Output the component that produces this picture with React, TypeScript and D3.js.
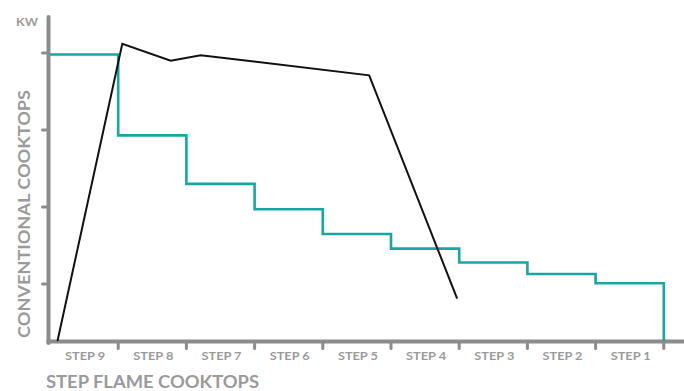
import React from "react";
import * as d3 from "d3";

const categories = ["STEP 9", "STEP 8", "STEP 7", "STEP 6", "STEP 5", "STEP 4", "STEP 3", "STEP 2", "STEP 1"];
// Step-flame cooktop power per step (kW, estimated)
const stepValues = [3.98, 2.93, 2.30, 1.97, 1.65, 1.46, 1.28, 1.13, 1.01];
// Conventional cooktop curve: position along steps axis, kW
const convX = [0.11, 1.06, 1.77, 2.21, 4.68, 5.97];
const convY = [0.26, 4.12, 3.90, 3.97, 3.71, 0.81];
const yTicks = [1, 2, 3, 4];
const yBase = 0.26;
const yTop = 4.48;

const W = 684;
const H = 391;

export default function App() {
  const x = d3.scaleLinear().domain([0, categories.length]).range([50, 663.8]);
  const y = d3.scaleLinear().domain([yBase, yTop]).range([341, 16]);

  const stepPts: [number, number][] = [];
  stepValues.forEach((v, i) => {
    stepPts.push([i, v]);
    stepPts.push([i + 1, v]);
  });
  stepPts.push([categories.length, yBase]);
  const lineGen = d3
    .line<[number, number]>()
    .x((d) => x(d[0]))
    .y((d) => y(d[1]))
    .curve(d3.curveLinear);

  const convPts: [number, number][] = convX.map((v, i) => [v, convY[i]]);

  const axisColor = "#8c8c8c";
  const textColor = "#9a9a9a";
  const font = "Lato, 'Open Sans', sans-serif";

  return (
    <svg
      width={W}
      height={H}
      style={{ position: "absolute", left: 0, top: 0 }}
      viewBox={`0 0 ${W} ${H}`}
    >
      <rect width={W} height={H} fill="#ffffff" />
      {/* y ticks */}
      {yTicks.map((t) => (
        <line
          key={"yt" + t}
          x1={42.5}
          x2={48}
          y1={y(t)}
          y2={y(t)}
          stroke={axisColor}
          strokeWidth={3}
          strokeLinecap="round"
        />
      ))}
      {/* x ticks */}
      {categories.map((c, i) => (
        <line
          key={"xt" + c}
          x1={x(i + 1)}
          x2={x(i + 1)}
          y1={342}
          y2={348.5}
          stroke={axisColor}
          strokeWidth={3}
          strokeLinecap="round"
        />
      ))}
      {/* axes */}
      <line x1={48.5} x2={48.5} y1={17} y2={343} stroke={axisColor} strokeWidth={4} strokeLinecap="round" />
      <line x1={46.5} x2={W} y1={341.5} y2={341.5} stroke={axisColor} strokeWidth={4} />
      {/* step line */}
      <path d={lineGen(stepPts) || ""} fill="none" stroke="#17a6a2" strokeWidth={2.6} />
      {/* conventional line */}
      <path d={lineGen(convPts) || ""} fill="none" stroke="#111111" strokeWidth={2} strokeLinejoin="miter" />
      {/* x tick labels */}
      {categories.map((c, i) => (
        <text
          key={"xl" + c}
          x={x(i + 0.5) + 1}
          y={360}
          textAnchor="middle"
          fontFamily={font}
          fontWeight={700}
          fontSize={12}
          fill={textColor}
          textLength={40}
          lengthAdjust="spacingAndGlyphs"
        >
          {c}
        </text>
      ))}
      <text
        x={16}
        y={26}
        fontFamily={font}
        fontWeight={700}
        fontSize={11.5}
        fill={textColor}
        textLength={22}
        lengthAdjust="spacingAndGlyphs"
      >
        KW
      </text>
      <text
        x={46}
        y={388}
        fontFamily={font}
        fontWeight={700}
        fontSize={16.5}
        fill={textColor}
        textLength={213}
        lengthAdjust="spacingAndGlyphs"
      >
        STEP FLAME COOKTOPS
      </text>
      <text
        transform="translate(30,338) rotate(-90)"
        fontFamily={font}
        fontWeight={700}
        fontSize={17}
        fill={textColor}
        textLength={248}
        lengthAdjust="spacingAndGlyphs"
      >
        CONVENTIONAL COOKTOPS
      </text>
    </svg>
  );
}
